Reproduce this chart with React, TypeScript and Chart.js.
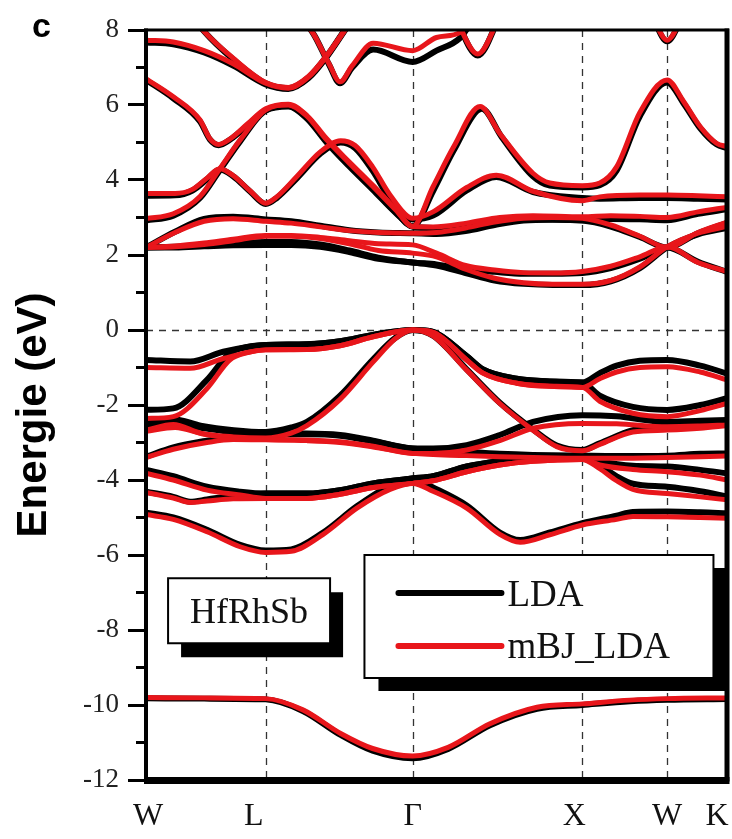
import React, { useEffect, useRef } from 'react';
import { Chart, registerables } from 'chart.js';
Chart.register(...registerables);

type Pt = [number, number];

// k-path (fractional distance along W-L-Γ-X-W-K)
const K_POS = [0, 0.206, 0.459, 0.751, 0.897, 1];
const K_LABELS = ['W', 'L', 'Γ', 'X', 'W', 'K'];
const Y_MIN = -12;
const Y_MAX = 8;
const Y_STEP = 2;

// ---------- LDA (black) bands ----------
const LDA_S: Pt[] = [[0,-9.82],[0.1,-9.83],[0.206,-9.85],[0.27,-10.16],[0.335,-10.8],[0.39,-11.22],[0.459,-11.42],[0.52,-11.17],[0.592,-10.54],[0.673,-10.1],[0.751,-10.0],[0.833,-9.9],[0.897,-9.86],[1,-9.84]];
const LDA_V8: Pt[] = [[0,-4.87],[0.047,-5.0],[0.105,-5.33],[0.162,-5.73],[0.206,-5.88],[0.25,-5.85],[0.305,-5.4],[0.363,-4.7],[0.42,-4.15],[0.459,-3.96],[0.494,-4.2],[0.552,-4.68],[0.609,-5.4],[0.644,-5.6],[0.695,-5.4],[0.751,-5.15],[0.81,-4.95],[0.838,-4.85],[0.897,-4.84],[0.954,-4.86],[1,-4.89]];
const LDA_V7: Pt[] = [[0,-4.31],[0.047,-4.45],[0.076,-4.58],[0.105,-4.52],[0.15,-4.42],[0.206,-4.36],[0.277,-4.36],[0.334,-4.27],[0.391,-4.09],[0.459,-3.96],[0.494,-3.9],[0.552,-3.64],[0.609,-3.5],[0.666,-3.42],[0.751,-3.38],[0.781,-3.6],[0.81,-3.9],[0.838,-4.1],[0.897,-4.18],[0.954,-4.3],[1,-4.44]];
const LDA_V6: Pt[] = [[0,-3.73],[0.047,-3.9],[0.105,-4.18],[0.162,-4.31],[0.206,-4.36],[0.277,-4.36],[0.334,-4.27],[0.391,-4.09],[0.459,-3.96],[0.494,-3.9],[0.552,-3.64],[0.609,-3.5],[0.666,-3.42],[0.751,-3.38],[0.781,-3.5],[0.838,-3.62],[0.897,-3.64],[0.954,-3.73],[1,-3.82]];
const LDA_V5: Pt[] = [[0,-3.38],[0.047,-3.13],[0.105,-2.95],[0.15,-2.85],[0.206,-2.8],[0.277,-2.78],[0.334,-2.82],[0.391,-2.97],[0.459,-3.16],[0.552,-3.25],[0.609,-3.3],[0.666,-3.33],[0.751,-3.35],[0.81,-3.36],[0.897,-3.35],[0.954,-3.3],[1,-3.29]];
const LDA_V4: Pt[] = [[0,-2.58],[0.05,-2.5],[0.1,-2.62],[0.15,-2.72],[0.206,-2.76],[0.277,-2.76],[0.334,-2.8],[0.391,-2.95],[0.459,-3.16],[0.494,-3.16],[0.552,-3.07],[0.609,-2.8],[0.666,-2.45],[0.751,-2.27],[0.81,-2.3],[0.897,-2.45],[0.954,-2.42],[1,-2.4]];
const LDA_V3: Pt[] = [[0,-2.49],[0.047,-2.38],[0.094,-2.55],[0.151,-2.67],[0.206,-2.72],[0.25,-2.6],[0.277,-2.45],[0.334,-1.75],[0.391,-0.78],[0.43,-0.2],[0.459,0],[0.494,-0.15],[0.552,-1.05],[0.609,-1.94],[0.666,-2.65],[0.707,-3.08],[0.751,-3.2],[0.781,-3.02],[0.838,-2.67],[0.897,-2.55],[0.954,-2.5],[1,-2.42]];
const LDA_V2: Pt[] = [[0,-2.13],[0.047,-2.09],[0.105,-1.33],[0.144,-0.62],[0.175,-0.45],[0.206,-0.4],[0.277,-0.38],[0.334,-0.3],[0.391,-0.13],[0.459,0],[0.494,-0.05],[0.552,-0.7],[0.58,-1.05],[0.638,-1.3],[0.695,-1.37],[0.751,-1.4],[0.781,-1.75],[0.838,-2.05],[0.897,-2.13],[0.954,-2.0],[1,-1.82]];
const LDA_V1: Pt[] = [[0,-0.8],[0.076,-0.84],[0.133,-0.58],[0.206,-0.4],[0.277,-0.38],[0.334,-0.3],[0.391,-0.13],[0.459,0],[0.494,-0.05],[0.552,-0.7],[0.58,-1.05],[0.638,-1.3],[0.695,-1.37],[0.751,-1.4],[0.781,-1.15],[0.81,-0.95],[0.85,-0.82],[0.897,-0.8],[0.954,-0.95],[1,-1.16]];
const LDA_C1: Pt[] = [[0,2.2],[0.05,2.2],[0.1,2.23],[0.15,2.26],[0.206,2.27],[0.25,2.27],[0.3,2.22],[0.35,2.08],[0.4,1.9],[0.459,1.8],[0.5,1.72],[0.55,1.52],[0.6,1.32],[0.65,1.23],[0.7,1.2],[0.751,1.2],[0.8,1.3],[0.85,1.65],[0.897,2.2],[0.95,2.55],[1,2.72]];
const LDA_C2: Pt[] = [[0,2.2],[0.05,2.22],[0.1,2.25],[0.15,2.3],[0.206,2.35],[0.25,2.35],[0.3,2.28],[0.35,2.12],[0.4,1.93],[0.459,1.8],[0.5,1.75],[0.55,1.62],[0.6,1.55],[0.65,1.5],[0.7,1.5],[0.751,1.52],[0.8,1.65],[0.85,1.9],[0.897,2.2],[0.95,1.82],[1,1.55]];
const LDA_C3: Pt[] = [[0,2.2],[0.05,2.62],[0.1,2.96],[0.15,3.02],[0.206,2.95],[0.25,2.9],[0.3,2.78],[0.35,2.66],[0.4,2.6],[0.459,2.58],[0.5,2.56],[0.55,2.64],[0.6,2.8],[0.65,2.92],[0.7,2.94],[0.751,2.92],[0.8,2.76],[0.85,2.48],[0.897,2.2],[0.95,2.58],[1,2.85]];
const LDA_C4: Pt[] = [[0,3.58],[0.05,3.59],[0.08,3.72],[0.105,4.02],[0.127,4.28],[0.15,4.1],[0.18,3.68],[0.206,3.36],[0.225,3.52],[0.26,4.05],[0.3,4.7],[0.335,5.0],[0.36,4.85],[0.39,4.25],[0.42,3.5],[0.459,2.95],[0.494,3.05],[0.552,3.72],[0.603,4.08],[0.666,3.68],[0.751,3.52],[0.781,3.5],[0.85,3.52],[0.897,3.52],[0.95,3.5],[1,3.48]];
const LDA_C5: Pt[] = [[0,2.92],[0.047,3.05],[0.093,3.52],[0.127,4.26],[0.162,5.03],[0.206,5.85],[0.245,5.96],[0.277,5.64],[0.311,5.0],[0.35,4.36],[0.391,3.73],[0.43,3.12],[0.459,2.76],[0.494,2.72],[0.552,2.76],[0.609,2.9],[0.666,2.96],[0.751,2.93],[0.8,2.96],[0.85,2.95],[0.897,2.93],[0.95,3.1],[1,3.22]];
const LDA_C6: Pt[] = [[0,6.67],[0.047,6.18],[0.093,5.56],[0.11,5.08],[0.125,4.93],[0.145,5.08],[0.175,5.46],[0.206,5.86],[0.245,5.98],[0.277,5.66],[0.311,5.04],[0.35,4.4],[0.391,3.76],[0.43,3.14],[0.459,2.76],[0.494,3.7],[0.53,4.8],[0.578,5.9],[0.612,5.15],[0.666,4.1],[0.695,3.85],[0.751,3.8],[0.781,3.86],[0.81,4.25],[0.85,5.7],[0.897,6.6],[0.925,6.05],[0.954,5.38],[0.982,4.95],[1,4.85]];
const LDA_T1: Pt[] = [[0,7.67],[0.047,7.62],[0.1,7.4],[0.15,7.05],[0.206,6.55],[0.245,6.43],[0.28,6.72],[0.311,7.28],[0.345,8.05],[0.37,8.6]];
const LDA_T2: Pt[] = [[0.06,8.8],[0.098,8.0],[0.15,7.22],[0.206,6.58],[0.245,6.45],[0.28,6.74],[0.311,7.3],[0.345,8.07],[0.37,8.6]];
const LDA_T3: Pt[] = [[0.26,8.5],[0.29,7.85],[0.315,7.08],[0.334,6.58],[0.355,7.0],[0.391,7.48],[0.459,7.15],[0.5,7.45],[0.54,7.78],[0.56,8.2]];
const LDA_T4: Pt[] = [[0.53,8.4],[0.571,7.32],[0.61,8.4]];
const LDA_T5: Pt[] = [[0.87,8.4],[0.897,7.7],[0.925,8.4]];

// ---------- mBJ_LDA (red) bands ----------
const MBJ_S: Pt[] = [[0,-9.8],[0.1,-9.81],[0.206,-9.83],[0.27,-10.13],[0.335,-10.76],[0.39,-11.16],[0.459,-11.36],[0.52,-11.13],[0.592,-10.5],[0.673,-10.06],[0.751,-9.97],[0.833,-9.87],[0.897,-9.83],[1,-9.81]];
const MBJ_V8: Pt[] = [[0,-4.92],[0.047,-5.05],[0.105,-5.38],[0.162,-5.78],[0.206,-5.93],[0.25,-5.9],[0.305,-5.45],[0.363,-4.75],[0.42,-4.25],[0.459,-4.09],[0.494,-4.3],[0.552,-4.75],[0.609,-5.45],[0.644,-5.66],[0.695,-5.46],[0.751,-5.2],[0.81,-5.05],[0.838,-4.97],[0.897,-4.98],[0.954,-5.0],[1,-5.02]];
const MBJ_V7: Pt[] = [[0,-4.33],[0.047,-4.48],[0.076,-4.6],[0.105,-4.56],[0.15,-4.5],[0.206,-4.49],[0.277,-4.49],[0.334,-4.38],[0.391,-4.2],[0.459,-4.09],[0.494,-4.02],[0.552,-3.78],[0.609,-3.6],[0.666,-3.5],[0.751,-3.45],[0.781,-3.7],[0.81,-4.02],[0.838,-4.25],[0.897,-4.36],[0.954,-4.45],[1,-4.53]];
const MBJ_V6: Pt[] = [[0,-3.82],[0.047,-4.0],[0.105,-4.27],[0.162,-4.4],[0.206,-4.49],[0.277,-4.49],[0.334,-4.38],[0.391,-4.2],[0.459,-4.09],[0.494,-4.02],[0.552,-3.78],[0.609,-3.6],[0.666,-3.5],[0.751,-3.45],[0.781,-3.6],[0.838,-3.72],[0.897,-3.78],[0.954,-3.87],[1,-4.0]];
const MBJ_V5: Pt[] = [[0,-3.4],[0.047,-3.18],[0.105,-3.0],[0.15,-2.92],[0.206,-2.93],[0.277,-2.95],[0.334,-3.0],[0.391,-3.12],[0.459,-3.29],[0.552,-3.35],[0.609,-3.38],[0.666,-3.4],[0.751,-3.42],[0.81,-3.42],[0.897,-3.4],[0.954,-3.38],[1,-3.36]];
const MBJ_V4: Pt[] = [[0,-2.7],[0.05,-2.6],[0.1,-2.78],[0.15,-2.88],[0.206,-2.92],[0.277,-2.93],[0.334,-2.98],[0.391,-3.1],[0.459,-3.29],[0.494,-3.29],[0.552,-3.2],[0.609,-2.95],[0.666,-2.62],[0.751,-2.49],[0.81,-2.5],[0.897,-2.58],[0.954,-2.56],[1,-2.53]];
const MBJ_V3: Pt[] = [[0,-2.67],[0.047,-2.52],[0.094,-2.75],[0.151,-2.85],[0.206,-2.88],[0.25,-2.75],[0.277,-2.55],[0.334,-1.85],[0.391,-0.85],[0.43,-0.22],[0.459,0],[0.494,-0.16],[0.552,-1.07],[0.609,-1.96],[0.666,-2.67],[0.707,-3.11],[0.751,-3.22],[0.781,-3.05],[0.838,-2.72],[0.897,-2.67],[0.954,-2.62],[1,-2.55]];
const MBJ_V2: Pt[] = [[0,-2.36],[0.047,-2.31],[0.105,-1.56],[0.144,-0.8],[0.175,-0.6],[0.206,-0.53],[0.277,-0.52],[0.334,-0.42],[0.391,-0.18],[0.459,0],[0.494,-0.06],[0.552,-0.8],[0.58,-1.15],[0.638,-1.42],[0.695,-1.5],[0.751,-1.53],[0.781,-1.9],[0.838,-2.22],[0.897,-2.31],[0.954,-2.15],[1,-1.96]];
const MBJ_V1: Pt[] = [[0,-1.0],[0.076,-1.02],[0.133,-0.76],[0.206,-0.53],[0.277,-0.52],[0.334,-0.42],[0.391,-0.18],[0.459,0],[0.494,-0.06],[0.552,-0.8],[0.58,-1.15],[0.638,-1.42],[0.695,-1.5],[0.751,-1.53],[0.781,-1.3],[0.81,-1.12],[0.85,-1.0],[0.897,-0.98],[0.954,-1.12],[1,-1.33]];
const MBJ_C1: Pt[] = [[0,2.2],[0.05,2.22],[0.1,2.28],[0.15,2.38],[0.206,2.5],[0.25,2.5],[0.3,2.44],[0.35,2.3],[0.4,2.12],[0.459,2.05],[0.5,1.95],[0.55,1.62],[0.6,1.38],[0.65,1.26],[0.7,1.22],[0.751,1.22],[0.8,1.32],[0.85,1.68],[0.897,2.22],[0.95,2.58],[1,2.76]];
const MBJ_C2: Pt[] = [[0,2.2],[0.05,2.24],[0.1,2.32],[0.15,2.42],[0.206,2.52],[0.25,2.52],[0.3,2.47],[0.35,2.38],[0.4,2.3],[0.459,2.27],[0.5,2.05],[0.55,1.72],[0.6,1.6],[0.65,1.53],[0.7,1.52],[0.751,1.56],[0.8,1.7],[0.85,1.95],[0.897,2.22],[0.95,1.8],[1,1.56]];
const MBJ_C3: Pt[] = [[0,2.2],[0.05,2.6],[0.1,2.9],[0.15,2.97],[0.206,2.9],[0.25,2.85],[0.3,2.75],[0.35,2.65],[0.4,2.6],[0.459,2.58],[0.5,2.6],[0.55,2.72],[0.6,2.88],[0.65,2.98],[0.7,3.0],[0.751,2.98],[0.8,2.8],[0.85,2.5],[0.897,2.2],[0.95,2.6],[1,2.88]];
const MBJ_C4: Pt[] = [[0,3.64],[0.05,3.64],[0.08,3.75],[0.105,4.05],[0.127,4.3],[0.15,4.12],[0.18,3.7],[0.206,3.38],[0.225,3.55],[0.26,4.1],[0.3,4.75],[0.335,5.05],[0.36,4.92],[0.39,4.35],[0.42,3.6],[0.459,2.98],[0.494,3.15],[0.552,3.8],[0.603,4.13],[0.666,3.7],[0.751,3.45],[0.781,3.55],[0.85,3.6],[0.897,3.6],[0.95,3.58],[1,3.55]];
const MBJ_C5: Pt[] = [[0,2.97],[0.047,3.1],[0.093,3.56],[0.127,4.3],[0.162,5.07],[0.206,5.87],[0.245,6.0],[0.277,5.7],[0.311,5.07],[0.35,4.45],[0.391,3.82],[0.43,3.2],[0.459,2.76],[0.494,2.75],[0.552,2.85],[0.609,3.0],[0.666,3.05],[0.751,3.02],[0.8,3.05],[0.85,3.03],[0.897,3.0],[0.95,3.15],[1,3.27]];
const MBJ_C6: Pt[] = [[0,6.7],[0.047,6.22],[0.093,5.6],[0.11,5.1],[0.125,4.95],[0.145,5.1],[0.175,5.5],[0.206,5.9],[0.245,6.02],[0.277,5.72],[0.311,5.1],[0.35,4.48],[0.391,3.85],[0.43,3.22],[0.459,2.76],[0.494,3.82],[0.53,4.9],[0.575,5.96],[0.609,5.24],[0.666,4.18],[0.695,3.92],[0.751,3.85],[0.781,3.92],[0.81,4.35],[0.85,5.8],[0.897,6.67],[0.925,6.1],[0.954,5.42],[0.982,4.98],[1,4.89]];
const MBJ_T1: Pt[] = [[0,7.73],[0.047,7.68],[0.1,7.45],[0.15,7.1],[0.206,6.58],[0.245,6.45],[0.28,6.75],[0.311,7.3],[0.345,8.05],[0.37,8.6]];
const MBJ_T2: Pt[] = [[0.06,8.8],[0.098,8.0],[0.15,7.25],[0.206,6.6],[0.245,6.47],[0.28,6.77],[0.311,7.32],[0.345,8.07],[0.37,8.6]];
const MBJ_T3: Pt[] = [[0.26,8.5],[0.29,7.85],[0.315,7.1],[0.334,6.62],[0.355,7.05],[0.391,7.65],[0.459,7.45],[0.5,7.8],[0.54,7.93],[0.56,8.3]];
const MBJ_T4: Pt[] = [[0.53,8.4],[0.571,7.36],[0.61,8.4]];
const MBJ_T5: Pt[] = [[0.87,8.4],[0.897,7.73],[0.925,8.4]];

const LDA_BANDS: Pt[][] = [LDA_S, LDA_V8, LDA_V7, LDA_V6, LDA_V5, LDA_V4, LDA_V3, LDA_V2, LDA_V1, LDA_C1, LDA_C2, LDA_C3, LDA_C4, LDA_C5, LDA_C6, LDA_T1, LDA_T2, LDA_T3, LDA_T4, LDA_T5];
const MBJ_BANDS: Pt[][] = [MBJ_S, MBJ_V8, MBJ_V7, MBJ_V6, MBJ_V5, MBJ_V4, MBJ_V3, MBJ_V2, MBJ_V1, MBJ_C1, MBJ_C2, MBJ_C3, MBJ_C4, MBJ_C5, MBJ_C6, MBJ_T1, MBJ_T2, MBJ_T3, MBJ_T4, MBJ_T5];

const RED = '#e8161b';
const SERIF = '"Liberation Serif", "Times New Roman", serif';
const SANS = '"Liberation Sans", Arial, sans-serif';
const X_LABEL_NUDGE = [2, -12, 0, -8, 0, -10];

function makeDataset(pts: Pt[], color: string, width: number, order: number) {
  return {
    data: pts.map(([x, y]) => ({ x, y })),
    borderColor: color,
    borderWidth: width,
    pointRadius: 0,
    pointHoverRadius: 0,
    fill: false,
    cubicInterpolationMode: 'monotone' as const,
    borderCapStyle: 'round' as const,
    borderJoinStyle: 'round' as const,
    order,
    clip: 0,
  };
}

const decoPlugin = {
  id: 'deco',
  beforeDatasetsDraw(chart: any) {
    const { ctx, chartArea: a, scales } = chart;
    const xs = scales.x, ys = scales.y;
    ctx.save();
    ctx.strokeStyle = '#333';
    ctx.lineWidth = 1.3;
    ctx.setLineDash([7, 6]);
    K_POS.slice(1, K_POS.length - 1).forEach((k) => {
      const px = Math.round(xs.getPixelForValue(k)) + 0.5;
      ctx.beginPath(); ctx.moveTo(px, a.top); ctx.lineTo(px, a.bottom); ctx.stroke();
    });
    const py0 = Math.round(ys.getPixelForValue(0)) + 0.5;
    ctx.beginPath(); ctx.moveTo(a.left, py0); ctx.lineTo(a.right, py0); ctx.stroke();
    ctx.restore();
  },
  afterDatasetsDraw(chart: any) {
    const { ctx, chartArea: a, scales } = chart;
    const xs = scales.x, ys = scales.y;
    ctx.save();
    ctx.setLineDash([]);
    ctx.strokeStyle = '#000';
    ctx.fillStyle = '#000';
    // frame
    ctx.fillRect(a.left - 2, a.top - 1.5, a.right - a.left + 4, 3); // top
    ctx.fillRect(a.left - 2, a.top - 1.5, 4, a.bottom - a.top + 3); // left
    ctx.fillRect(a.right - 2.5, a.top - 1.5, 5, a.bottom - a.top + 3); // right
    ctx.fillRect(a.left - 2, a.bottom - 3, a.right - a.left + 4.5, 7); // bottom
    // minor ticks (odd values)
    ctx.lineWidth = 3;
    for (let v = Y_MIN + 1; v < Y_MAX; v += Y_STEP) {
      const py = ys.getPixelForValue(v);
      ctx.beginPath(); ctx.moveTo(a.left - 10, py); ctx.lineTo(a.left, py); ctx.stroke();
    }
    // x labels
    ctx.fillStyle = '#111';
    ctx.font = `32px ${SERIF}`;
    ctx.textAlign = 'center';
    ctx.textBaseline = 'alphabetic';
    K_POS.forEach((k, i) => {
      ctx.fillText(K_LABELS[i], xs.getPixelForValue(k) + X_LABEL_NUDGE[i], a.bottom + 45);
    });
    // panel letter
    ctx.fillStyle = '#000';
    ctx.font = `bold 34px ${SANS}`;
    ctx.textAlign = 'left';
    ctx.fillText('c', 32, a.top + 7);
    // y title
    ctx.save();
    ctx.translate(46, (a.top + a.bottom) / 2 + 10);
    ctx.rotate(-Math.PI / 2);
    ctx.textAlign = 'center';
    ctx.font = `bold 42px ${SANS}`;
    ctx.fillText('Energie (eV)', 0, 0);
    ctx.restore();

    // compound label box
    const w = a.right - a.left;
    const h = a.bottom - a.top;
    const bx = a.left + 0.038 * w, by = a.top + 0.731 * h, bw = 162, bh = 65;
    ctx.fillStyle = '#000';
    ctx.fillRect(bx + 13, by + 14, bw, bh);
    ctx.fillStyle = '#fff';
    ctx.fillRect(bx, by, bw, bh);
    ctx.lineWidth = 2;
    ctx.strokeRect(bx, by, bw, bh);
    ctx.fillStyle = '#111';
    ctx.font = `36px ${SERIF}`;
    ctx.textAlign = 'center';
    ctx.fillText('HfRhSb', bx + bw / 2, by + 45);

    // legend box
    const lx = a.left + 0.376 * w, ly = a.top + 0.70 * h, lw = 349, lh = 123;
    ctx.fillStyle = '#000';
    ctx.fillRect(lx + 14, ly + 13, lw, lh);
    ctx.fillStyle = '#fff';
    ctx.fillRect(lx, ly, lw, lh);
    ctx.lineWidth = 2;
    ctx.strokeRect(lx, ly, lw, lh);
    ctx.lineCap = 'round';
    ctx.lineWidth = 6;
    ctx.strokeStyle = '#000';
    ctx.beginPath(); ctx.moveTo(lx + 34, ly + 38); ctx.lineTo(lx + 137, ly + 38); ctx.stroke();
    ctx.strokeStyle = RED;
    ctx.beginPath(); ctx.moveTo(lx + 34, ly + 91); ctx.lineTo(lx + 137, ly + 91); ctx.stroke();
    ctx.fillStyle = '#111';
    ctx.font = `37px ${SERIF}`;
    ctx.textAlign = 'left';
    ctx.fillText('LDA', lx + 143, ly + 51);
    ctx.fillText('mBJ_LDA', lx + 143, ly + 103);
    ctx.restore();
  },
};

export default function App() {
  const ref = useRef<HTMLCanvasElement | null>(null);
  useEffect(() => {
    document.body.style.margin = '0';
    const canvas = ref.current;
    if (!canvas) return;
    const datasets: any[] = [];
    LDA_BANDS.forEach((b) => datasets.push(makeDataset(b, '#000', 6, 2)));
    MBJ_BANDS.forEach((b) => datasets.push(makeDataset(b, RED, 5, 1)));
    const chart = new Chart(canvas, {
      type: 'line',
      data: { datasets },
      options: {
        animation: false,
        responsive: false,
        devicePixelRatio: 1,
        layout: { padding: { top: 30, left: 0, right: 5, bottom: 0 } },
        plugins: { legend: { display: false }, tooltip: { enabled: false } },
        events: [],
        scales: {
          x: {
            type: 'linear',
            min: 0,
            max: 1,
            grid: { display: false },
            border: { display: false },
            ticks: { display: false },
            afterFit: (s: any) => { s.height = 59; },
          },
          y: {
            type: 'linear',
            min: Y_MIN,
            max: Y_MAX,
            grid: { display: true, drawOnChartArea: false, drawTicks: true, tickLength: 18, tickWidth: 3, tickColor: '#000' },
            border: { display: false },
            ticks: { stepSize: Y_STEP, padding: 9, color: '#222', font: { family: SERIF, size: 27 } },
            afterFit: (s: any) => { s.width = 146; },
          },
        },
      },
      plugins: [decoPlugin],
    });
    return () => chart.destroy();
  }, []);
  return (
    <div style={{ width: 732, height: 839 }}>
      <canvas ref={ref} width={732} height={839} style={{ width: 732, height: 839, display: 'block' }} />
    </div>
  );
}
